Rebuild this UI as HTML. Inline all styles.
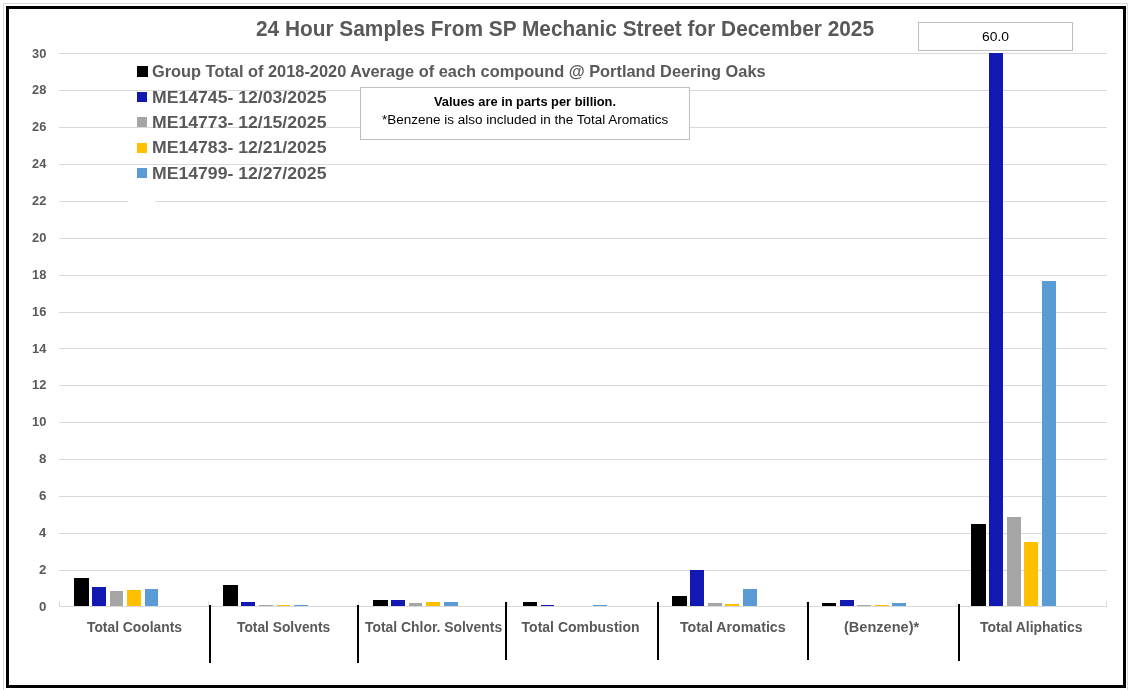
<!DOCTYPE html>
<html lang="en">
<head>
<meta charset="utf-8">
<title>24 Hour Samples From SP Mechanic Street for December 2025</title>
<style>
html,body{margin:0;padding:0;background:#fff;}
body{width:1130px;height:690px;position:relative;overflow:hidden;font-family:"Liberation Sans",sans-serif;}
.r{position:absolute;box-sizing:content-box;}
.t{position:absolute;white-space:nowrap;transform-origin:0 0;}
</style>
</head>
<body>
<div class="frame">
<div class="r" style="left:3px;top:3px;width:1125px;height:1px;background:#D9D9D9;"></div>
<div class="r" style="left:3px;top:3px;width:1px;height:687px;background:#D9D9D9;"></div>
<div class="r" style="left:1127px;top:3px;width:1px;height:687px;background:#D9D9D9;"></div>
<div class="r" style="left:6px;top:6px;width:1114px;height:676px;border:3px solid #000;"></div>
</div>
<div class="gridlines">
<div class="r" style="left:59px;top:606px;width:1048px;height:1px;background:#D9D9D9;"></div>
<div class="r" style="left:59px;top:570px;width:1048px;height:1px;background:#D9D9D9;"></div>
<div class="r" style="left:59px;top:533px;width:1048px;height:1px;background:#D9D9D9;"></div>
<div class="r" style="left:59px;top:496px;width:1048px;height:1px;background:#D9D9D9;"></div>
<div class="r" style="left:59px;top:459px;width:1048px;height:1px;background:#D9D9D9;"></div>
<div class="r" style="left:59px;top:422px;width:1048px;height:1px;background:#D9D9D9;"></div>
<div class="r" style="left:59px;top:385px;width:1048px;height:1px;background:#D9D9D9;"></div>
<div class="r" style="left:59px;top:348px;width:1048px;height:1px;background:#D9D9D9;"></div>
<div class="r" style="left:59px;top:312px;width:1048px;height:1px;background:#D9D9D9;"></div>
<div class="r" style="left:59px;top:275px;width:1048px;height:1px;background:#D9D9D9;"></div>
<div class="r" style="left:59px;top:238px;width:1048px;height:1px;background:#D9D9D9;"></div>
<div class="r" style="left:59px;top:201px;width:1048px;height:1px;background:#D9D9D9;"></div>
<div class="r" style="left:59px;top:164px;width:1048px;height:1px;background:#D9D9D9;"></div>
<div class="r" style="left:59px;top:127px;width:1048px;height:1px;background:#D9D9D9;"></div>
<div class="r" style="left:59px;top:90px;width:1048px;height:1px;background:#D9D9D9;"></div>
<div class="r" style="left:59px;top:53px;width:1048px;height:1px;background:#D9D9D9;"></div>
<div class="r" style="left:59px;top:601px;width:1px;height:5px;background:#D9D9D9;"></div>
<div class="r" style="left:208px;top:601px;width:1px;height:5px;background:#E2E2E2;"></div>
<div class="r" style="left:358px;top:601px;width:1px;height:5px;background:#E2E2E2;"></div>
<div class="r" style="left:507px;top:601px;width:1px;height:5px;background:#E2E2E2;"></div>
<div class="r" style="left:806px;top:601px;width:1px;height:5px;background:#E2E2E2;"></div>
<div class="r" style="left:956px;top:601px;width:1px;height:5px;background:#E2E2E2;"></div>
<div class="r" style="left:1106px;top:601px;width:1px;height:5px;background:#D9D9D9;"></div>
</div>
<div class="bars">
<div class="r" style="left:74px;top:578px;width:15px;height:28px;background:#000000;"></div>
<div class="r" style="left:92px;top:587px;width:14px;height:19px;background:#1219B2;"></div>
<div class="r" style="left:110px;top:591px;width:13px;height:15px;background:#A5A5A5;"></div>
<div class="r" style="left:127px;top:590px;width:14px;height:16px;background:#FFC000;"></div>
<div class="r" style="left:145px;top:589px;width:13px;height:17px;background:#5B9BD5;"></div>
<div class="r" style="left:223px;top:585px;width:15px;height:21px;background:#000000;"></div>
<div class="r" style="left:241px;top:602px;width:14px;height:4px;background:#1219B2;"></div>
<div class="r" style="left:259px;top:605px;width:14px;height:1px;background:#A5A5A5;"></div>
<div class="r" style="left:277px;top:605px;width:13px;height:1px;background:#FFC000;"></div>
<div class="r" style="left:294px;top:605px;width:14px;height:1px;background:#5B9BD5;"></div>
<div class="r" style="left:373px;top:600px;width:15px;height:6px;background:#000000;"></div>
<div class="r" style="left:391px;top:600px;width:14px;height:6px;background:#1219B2;"></div>
<div class="r" style="left:409px;top:603px;width:13px;height:3px;background:#A5A5A5;"></div>
<div class="r" style="left:426px;top:602px;width:14px;height:4px;background:#FFC000;"></div>
<div class="r" style="left:444px;top:602px;width:14px;height:4px;background:#5B9BD5;"></div>
<div class="r" style="left:523px;top:602px;width:14px;height:4px;background:#000000;"></div>
<div class="r" style="left:541px;top:605px;width:13px;height:1px;background:#1219B2;"></div>
<div class="r" style="left:593px;top:605px;width:14px;height:1px;background:#5B9BD5;"></div>
<div class="r" style="left:672px;top:596px;width:15px;height:10px;background:#000000;"></div>
<div class="r" style="left:690px;top:570px;width:14px;height:36px;background:#1219B2;"></div>
<div class="r" style="left:708px;top:603px;width:14px;height:3px;background:#A5A5A5;"></div>
<div class="r" style="left:725px;top:604px;width:14px;height:2px;background:#FFC000;"></div>
<div class="r" style="left:743px;top:589px;width:14px;height:17px;background:#5B9BD5;"></div>
<div class="r" style="left:822px;top:603px;width:14px;height:3px;background:#000000;"></div>
<div class="r" style="left:840px;top:600px;width:14px;height:6px;background:#1219B2;"></div>
<div class="r" style="left:857px;top:605px;width:14px;height:1px;background:#A5A5A5;"></div>
<div class="r" style="left:875px;top:605px;width:14px;height:1px;background:#FFC000;"></div>
<div class="r" style="left:892px;top:603px;width:14px;height:3px;background:#5B9BD5;"></div>
<div class="r" style="left:971px;top:524px;width:15px;height:82px;background:#000000;"></div>
<div class="r" style="left:989px;top:53px;width:14px;height:553px;background:#1219B2;"></div>
<div class="r" style="left:1007px;top:517px;width:14px;height:89px;background:#A5A5A5;"></div>
<div class="r" style="left:1024px;top:542px;width:14px;height:64px;background:#FFC000;"></div>
<div class="r" style="left:1042px;top:281px;width:14px;height:325px;background:#5B9BD5;"></div>
</div>
<div class="separators">
<div class="r" style="left:209px;top:605px;width:2px;height:58px;background:#000;"></div>
<div class="r" style="left:357px;top:605px;width:2px;height:58px;background:#000;"></div>
<div class="r" style="left:505px;top:602px;width:2px;height:58px;background:#000;"></div>
<div class="r" style="left:657px;top:602px;width:2px;height:58px;background:#000;"></div>
<div class="r" style="left:807px;top:602px;width:2px;height:58px;background:#000;"></div>
<div class="r" style="left:958px;top:604px;width:2px;height:57px;background:#000;"></div>
</div>
<div class="annotations">
<div class="r" style="left:128px;top:196px;width:27px;height:10px;background:#fff;"></div>
<div class="r" style="left:360px;top:87px;width:328px;height:51px;border:1px solid #BFBFBF;background:#fff;"></div>
<div class="r" style="left:918px;top:22px;width:153px;height:27px;border:1px solid #BFBFBF;background:#fff;"></div>
</div>
<div class="legend-swatches">
<div class="r" style="left:137px;top:66px;width:11px;height:11px;background:#000000;"></div>
<div class="r" style="left:137px;top:92px;width:10px;height:10px;background:#1219B2;"></div>
<div class="r" style="left:137px;top:117px;width:10px;height:10px;background:#A5A5A5;"></div>
<div class="r" style="left:137px;top:143px;width:10px;height:10px;background:#FFC000;"></div>
<div class="r" style="left:137px;top:168px;width:10px;height:10px;background:#5B9BD5;"></div>
</div>
<div class="labels">
<div class="t" id="t0" style="left:256.29px;top:16px;font-size:22.0px;line-height:25px;font-weight:bold;color:#595959;transform:scaleX(0.9471);">24 Hour Samples From SP Mechanic Street for December 2025</div>
<div class="t" id="t1" style="left:152.16px;top:62px;font-size:16.6px;line-height:19px;font-weight:bold;color:#595959;transform:scaleX(0.9860);">Group Total of 2018-2020 Average of each compound @ Portland Deering Oaks</div>
<div class="t" id="t2" style="left:151.58px;top:88px;font-size:16.6px;line-height:19px;font-weight:bold;color:#595959;transform:scaleX(1.0624);">ME14745- 12/03/2025</div>
<div class="t" id="t3" style="left:151.58px;top:113px;font-size:16.6px;line-height:19px;font-weight:bold;color:#595959;transform:scaleX(1.0624);">ME14773- 12/15/2025</div>
<div class="t" id="t4" style="left:151.58px;top:138px;font-size:16.6px;line-height:19px;font-weight:bold;color:#595959;transform:scaleX(1.0624);">ME14783- 12/21/2025</div>
<div class="t" id="t5" style="left:151.58px;top:164px;font-size:16.6px;line-height:19px;font-weight:bold;color:#595959;transform:scaleX(1.0624);">ME14799- 12/27/2025</div>
<div class="t" id="t6" style="left:433.65px;top:95px;font-size:12.6px;line-height:14px;font-weight:bold;color:#000;transform:scaleX(1.0200);">Values are in parts per billion.</div>
<div class="t" id="t7" style="left:381.72px;top:113px;font-size:12.0px;line-height:14px;font-weight:normal;color:#000;transform:scaleX(1.1244);">*Benzene is also included in the Total Aromatics</div>
<div class="t" id="t8" style="left:981.74px;top:30px;font-size:12.6px;line-height:14px;font-weight:normal;color:#000;transform:scaleX(1.1021);">60.0</div>
<div class="t" id="t9" style="left:38.68px;top:600px;font-size:12.6px;line-height:14px;font-weight:bold;color:#595959;transform:scaleX(1.0560);">0</div>
<div class="t" id="t10" style="left:38.68px;top:563px;font-size:12.6px;line-height:14px;font-weight:bold;color:#595959;transform:scaleX(1.0560);">2</div>
<div class="t" id="t11" style="left:38.95px;top:526px;font-size:12.6px;line-height:14px;font-weight:bold;color:#595959;transform:scaleX(1.0286);">4</div>
<div class="t" id="t12" style="left:38.68px;top:489px;font-size:12.6px;line-height:14px;font-weight:bold;color:#595959;transform:scaleX(1.0560);">6</div>
<div class="t" id="t13" style="left:38.68px;top:452px;font-size:12.6px;line-height:14px;font-weight:bold;color:#595959;transform:scaleX(1.0560);">8</div>
<div class="t" id="t14" style="left:32.38px;top:415px;font-size:12.6px;line-height:14px;font-weight:bold;color:#595959;transform:scaleX(1.0200);">10</div>
<div class="t" id="t15" style="left:32.38px;top:378px;font-size:12.6px;line-height:14px;font-weight:bold;color:#595959;transform:scaleX(1.0200);">12</div>
<div class="t" id="t16" style="left:31.87px;top:342px;font-size:12.6px;line-height:14px;font-weight:bold;color:#595959;transform:scaleX(1.0200);">14</div>
<div class="t" id="t17" style="left:32.38px;top:305px;font-size:12.6px;line-height:14px;font-weight:bold;color:#595959;transform:scaleX(1.0200);">16</div>
<div class="t" id="t18" style="left:32.38px;top:268px;font-size:12.6px;line-height:14px;font-weight:bold;color:#595959;transform:scaleX(1.0200);">18</div>
<div class="t" id="t19" style="left:32.38px;top:231px;font-size:12.6px;line-height:14px;font-weight:bold;color:#595959;transform:scaleX(1.0200);">20</div>
<div class="t" id="t20" style="left:32.38px;top:194px;font-size:12.6px;line-height:14px;font-weight:bold;color:#595959;transform:scaleX(1.0200);">22</div>
<div class="t" id="t21" style="left:31.87px;top:157px;font-size:12.6px;line-height:14px;font-weight:bold;color:#595959;transform:scaleX(1.0200);">24</div>
<div class="t" id="t22" style="left:32.38px;top:120px;font-size:12.6px;line-height:14px;font-weight:bold;color:#595959;transform:scaleX(1.0200);">26</div>
<div class="t" id="t23" style="left:32.38px;top:83px;font-size:12.6px;line-height:14px;font-weight:bold;color:#595959;transform:scaleX(1.0200);">28</div>
<div class="t" id="t24" style="left:32.38px;top:47px;font-size:12.6px;line-height:14px;font-weight:bold;color:#595959;transform:scaleX(1.0200);">30</div>
<div class="t" id="t25" style="left:86.80px;top:619px;font-size:14.0px;line-height:16px;font-weight:bold;color:#595959;transform:scaleX(0.9874);">Total Coolants</div>
<div class="t" id="t26" style="left:237.45px;top:619px;font-size:14.0px;line-height:16px;font-weight:bold;color:#595959;transform:scaleX(0.9851);">Total Solvents</div>
<div class="t" id="t27" style="left:365.15px;top:619px;font-size:14.0px;line-height:16px;font-weight:bold;color:#595959;transform:scaleX(0.9924);">Total Chlor. Solvents</div>
<div class="t" id="t28" style="left:521.60px;top:619px;font-size:14.0px;line-height:16px;font-weight:bold;color:#595959;transform:scaleX(1.0000);">Total Combustion</div>
<div class="t" id="t29" style="left:680.10px;top:619px;font-size:14.0px;line-height:16px;font-weight:bold;color:#595959;transform:scaleX(1.0135);">Total Aromatics</div>
<div class="t" id="t30" style="left:843.92px;top:619px;font-size:14.0px;line-height:16px;font-weight:bold;color:#595959;transform:scaleX(1.0392);">(Benzene)*</div>
<div class="t" id="t31" style="left:980.45px;top:619px;font-size:14.0px;line-height:16px;font-weight:bold;color:#595959;transform:scaleX(0.9980);">Total Aliphatics</div>
</div>
</body>
</html>
